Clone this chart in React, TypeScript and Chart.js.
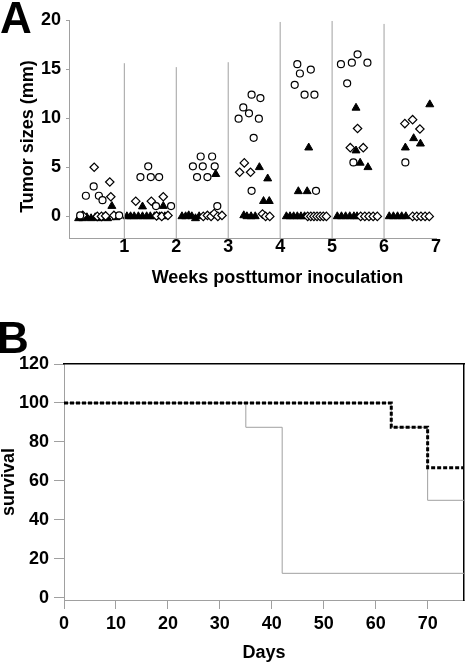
import React, { useEffect, useRef } from 'react';
import { Chart, registerables } from 'chart.js';

Chart.register(...registerables);

const FONT = "'Liberation Sans', Arial, Helvetica, sans-serif";
const GRAY = '#a0a0a0';

// ---------- Panel A data ----------
const weekTicks = [1, 2, 3, 4, 5, 6, 7];
const sizeTicks = [0, 5, 10, 15, 20];
const dividerWeeks = [1, 2, 3, 4, 5, 6];
const dividerTops = [15.6, 15.2, 15.7, 19.8, 19.9, 19.6];

const circleWeeks = [
  0.15, 0.26, 0.41, 0.51, 0.58, 0.9,
  1.31, 1.46, 1.51, 1.67, 1.61, 1.9,
  2.32, 2.4, 2.47, 2.51, 2.6, 2.69, 2.74, 2.79,
  3.2, 3.29, 3.4, 3.45, 3.49, 3.59, 3.62, 3.45,
  4.28, 4.33, 4.38, 4.47, 4.59, 4.66, 4.69,
  5.17, 5.29, 5.38, 5.49, 5.68, 5.41,
  6.41,
];
const circleSizes = [
  0.1, 2.1, 3.05, 2.1, 1.65, 0.1,
  4.0, 5.1, 4.0, 4.0, 1.05, 1.05,
  5.1, 4.0, 6.1, 5.1, 4.0, 6.1, 5.1, 1.05,
  9.95, 11.1, 10.5, 12.4, 8.0, 9.95, 12.05, 2.6,
  13.4, 15.5, 14.55, 12.4, 14.95, 12.4, 2.6,
  15.5, 13.55, 15.65, 16.5, 15.65, 5.5,
  5.5,
];

const diamondWeeks = [
  0.42, 0.72, 0.74, 0.2, 0.48, 0.56, 0.64, 0.8,
  1.22, 1.52, 1.75, 1.62, 1.72, 1.84,
  2.52, 2.6, 2.67, 2.73, 2.8, 2.88,
  3.22, 3.31, 3.43, 3.66, 3.72, 3.8,
  4.53, 4.59, 4.65, 4.71, 4.77, 4.83, 4.89,
  5.35, 5.49, 5.6, 5.55, 5.63, 5.71, 5.79, 5.87,
  6.4, 6.55, 6.69, 6.55, 6.63, 6.71, 6.79, 6.87,
];
const diamondSizes = [
  5.0, 3.5, 2.0, 0.1, 0.0, 0.0, 0.05, 0.1,
  1.55, 1.55, 2.0, 0.05, 0.0, 0.1,
  0.0, 0.1, 0.0, 0.3, 0.0, 0.1,
  4.5, 5.45, 4.5, 0.25, 0.0, 0.0,
  0.0, 0.0, 0.0, 0.0, 0.0, 0.0, 0.0,
  7.0, 8.95, 7.0, 0.0, 0.0, 0.0, 0.0, 0.0,
  9.45, 9.85, 8.9, 0.0, 0.0, 0.0, 0.0, 0.0,
];

const triangleWeeks = [
  0.76, 0.12, 0.2, 0.28, 0.36, 0.44, 0.52, 0.6, 0.68, 0.84,
  1.35, 1.75, 1.05, 1.12, 1.19, 1.27, 1.35, 1.43, 1.5, 1.58, 1.68, 1.78,
  2.76, 2.11, 2.18, 2.24, 2.3, 2.37, 2.44,
  3.6, 3.76, 3.68, 3.79, 3.3, 3.36, 3.44, 3.52,
  4.55, 4.35, 4.52, 4.12, 4.19, 4.26, 4.33, 4.4, 4.47,
  5.46, 5.46, 5.54, 5.69, 5.1, 5.18, 5.26, 5.34, 5.42, 5.48,
  6.88, 6.41, 6.57, 6.7, 6.1, 6.18, 6.26, 6.34, 6.42,
];
const triangleSizes = [
  1.05, -0.2, -0.2, -0.1, -0.2, -0.1, -0.2, -0.1, -0.2, -0.1,
  1.0, 1.05, 0.0, 0.0, 0.0, 0.0, 0.0, 0.0, 0.0, 0.0, 0.0, 0.0,
  4.3, 0.0, 0.0, 0.1, 0.0, -0.2, 0.0,
  5.0, 3.85, 1.55, 1.55, 0.1, 0.0, 0.0, 0.0,
  7.0, 2.55, 2.55, 0.0, 0.0, 0.0, 0.0, 0.0, 0.0,
  11.05, 6.7, 5.45, 5.0, 0.0, 0.0, 0.0, 0.0, 0.0, 0.0,
  11.4, 7.0, 7.95, 7.4, 0.0, 0.0, 0.0, 0.0, 0.0,
];

// ---------- Panel B data ----------
const dayTicks = [0, 10, 20, 30, 40, 50, 60, 70];
const survivalTicks = [0, 20, 40, 60, 80, 100, 120];
const dashedDays = [0, 63, 70, 77];
const dashedSurvival = [100, 87.5, 66.7, 66.7];
const lateDays = [0, 63, 70, 77];
const lateSurvival = [100, 87.5, 50, 50];
const earlyDays = [0, 35, 42, 77];
const earlySurvival = [100, 87.5, 12.5, 12.5];

const A_Y_MIN = -2.2;

const pts = (xs: number[], ys: number[]) => xs.map((x, i) => ({ x, y: ys[i] }));

const panelTextPlugin = {
  id: 'panelText',
  afterDraw(chart: any, _args: any, opts: any) {
    const ctx = chart.ctx as CanvasRenderingContext2D;
    (opts.items || []).forEach((it: any) => {
      ctx.save();
      ctx.font = `bold ${it.size}px ${FONT}`;
      ctx.fillStyle = '#000';
      ctx.textAlign = it.align || 'center';
      ctx.textBaseline = it.baseline || 'middle';
      ctx.translate(it.x, it.y);
      if (it.rotate) ctx.rotate(it.rotate);
      ctx.fillText(it.text, 0, 0);
      ctx.restore();
    });
  },
};

const tickFont = { size: 18, weight: 'bold' as const, lineHeight: 1 };

export default function App() {
  const refA = useRef<HTMLCanvasElement>(null);
  const refB = useRef<HTMLCanvasElement>(null);

  useEffect(() => {
    Chart.defaults.font.family = FONT;
    Chart.defaults.color = '#000';

    const dividerData = dividerWeeks.flatMap((w, i) => [
      { x: w, y: A_Y_MIN },
      { x: w, y: dividerTops[i] },
      { x: w, y: null as any },
    ]);

    const chartA = new Chart(refA.current!, {
      type: 'scatter',
      data: {
        datasets: [
          {
            label: 'week dividers',
            data: dividerData,
            showLine: true,
            spanGaps: false,
            borderColor: GRAY,
            borderWidth: 1,
            pointRadius: 0,
          },
          {
            label: 'circles',
            data: pts(circleWeeks, circleSizes),
            pointStyle: 'circle',
            pointRadius: 3.5,
            borderColor: '#000',
            backgroundColor: '#fff',
            borderWidth: 1.2,
          },
          {
            label: 'diamonds',
            data: pts(diamondWeeks, diamondSizes),
            pointStyle: 'rectRot',
            pointRadius: 4.2,
            borderColor: '#000',
            backgroundColor: '#fff',
            borderWidth: 1.2,
          },
          {
            label: 'triangles',
            data: pts(triangleWeeks, triangleSizes),
            pointStyle: 'triangle',
            pointRadius: 4.6,
            borderColor: '#000',
            backgroundColor: '#000',
            borderWidth: 1,
          },
        ],
      },
      options: {
        responsive: false,
        animation: false,
        devicePixelRatio: 1,
        layout: { padding: { left: 0, right: 30, top: 20, bottom: 0 } },
        plugins: {
          legend: { display: false },
          tooltip: { enabled: false },
          panelText: {
            items: [
              { text: 'A', x: 0, y: 33, size: 44, align: 'left', baseline: 'alphabetic' },
              { text: 'Tumor sizes (mm)', x: 28, y: 136.5, size: 18, rotate: -Math.PI / 2 },
              { text: 'Weeks posttumor inoculation', x: 277.5, y: 278, size: 18 },
            ],
          },
        } as any,
        scales: {
          x: {
            type: 'linear',
            min: -0.065,
            max: 7,
            afterBuildTicks: (s: any) => { s.ticks = weekTicks.map((v) => ({ value: v })); },
            afterFit: (s: any) => { s.height = 62; },
            grid: { display: false, drawTicks: false },
            border: { display: true, color: GRAY, width: 1 },
            ticks: { padding: 0, color: '#000', font: tickFont },
          },
          y: {
            type: 'linear',
            min: A_Y_MIN,
            max: 20,
            afterBuildTicks: (s: any) => { s.ticks = sizeTicks.map((v) => ({ value: v })); },
            afterFit: (s: any) => { s.width = 69; },
            grid: { display: true, drawOnChartArea: false, drawTicks: true, tickLength: 3, color: GRAY },
            border: { display: true, color: GRAY, width: 1 },
            ticks: { padding: 5, color: '#000', font: tickFont },
          },
        },
      },
      plugins: [panelTextPlugin],
    });

    const chartB = new Chart(refB.current!, {
      type: 'scatter',
      data: {
        datasets: [
          {
            label: 'dashed group',
            data: pts(dashedDays, dashedSurvival),
            showLine: true,
            stepped: 'before',
            borderColor: '#000',
            borderWidth: 3,
            borderDash: [4, 2],
            pointRadius: 0,
          },
          {
            label: 'late group',
            data: pts(lateDays, lateSurvival),
            showLine: true,
            stepped: 'before',
            borderColor: GRAY,
            borderWidth: 1,
            pointRadius: 0,
          },
          {
            label: 'early group',
            data: pts(earlyDays, earlySurvival),
            showLine: true,
            stepped: 'before',
            borderColor: GRAY,
            borderWidth: 1,
            pointRadius: 0,
          },
        ],
      },
      options: {
        responsive: false,
        animation: false,
        devicePixelRatio: 1,
        layout: { padding: { left: 0, right: 2, top: 64, bottom: 0 } },
        plugins: {
          legend: { display: false },
          tooltip: { enabled: false },
          panelText: {
            items: [{ text: 'B', x: -3, y: 53, size: 44, align: 'left', baseline: 'alphabetic' }],
          },
        } as any,
        scales: {
          x: {
            type: 'linear',
            min: 0,
            max: 77,
            afterBuildTicks: (s: any) => { s.ticks = dayTicks.map((v) => ({ value: v })); },
            afterFit: (s: any) => { s.height = 64; },
            grid: { display: true, drawOnChartArea: false, drawTicks: true, tickLength: 9, color: GRAY },
            border: { display: true, color: GRAY, width: 1 },
            ticks: { padding: 6, color: '#000', font: tickFont },
            title: {
              display: true,
              text: 'Days',
              color: '#000',
              padding: 0,
              font: { size: 18, weight: 'bold', lineHeight: 1.2 },
            },
          },
          y: {
            type: 'linear',
            min: -1.2,
            max: 120,
            afterBuildTicks: (s: any) => { s.ticks = survivalTicks.map((v) => ({ value: v })); },
            afterFit: (s: any) => { s.width = 64; },
            grid: { display: true, drawOnChartArea: false, drawTicks: true, tickLength: 10, color: GRAY },
            border: { display: true, color: GRAY, width: 1 },
            ticks: { padding: 5, color: '#000', font: tickFont },
            title: {
              display: true,
              text: 'survival',
              color: '#000',
              padding: 0,
              font: { size: 18, weight: 'bold', lineHeight: 1 },
            },
          },
          x2: {
            type: 'linear',
            position: 'top',
            display: true,
            afterFit: (s: any) => { s.height = 0; },
            grid: { display: false, drawTicks: false },
            ticks: { display: false },
            border: { display: true, color: '#000', width: 1.5 },
          },
          y2: {
            type: 'linear',
            position: 'right',
            display: true,
            afterFit: (s: any) => { s.width = 0; },
            grid: { display: false, drawTicks: false },
            ticks: { display: false },
            border: { display: true, color: '#000', width: 1.5 },
          },
        },
      },
      plugins: [panelTextPlugin],
    });

    return () => {
      chartA.destroy();
      chartB.destroy();
    };
  }, []);

  return (
    <div style={{ position: 'absolute', left: 0, top: 0, width: 466, height: 664, background: '#fff' }}>
      <canvas
        ref={refA}
        width={466}
        height={300}
        style={{ position: 'absolute', left: 0, top: 0, width: 466, height: 300, display: 'block' }}
      />
      <canvas
        ref={refB}
        width={466}
        height={364}
        style={{ position: 'absolute', left: 0, top: 300, width: 466, height: 364, display: 'block' }}
      />
    </div>
  );
}
